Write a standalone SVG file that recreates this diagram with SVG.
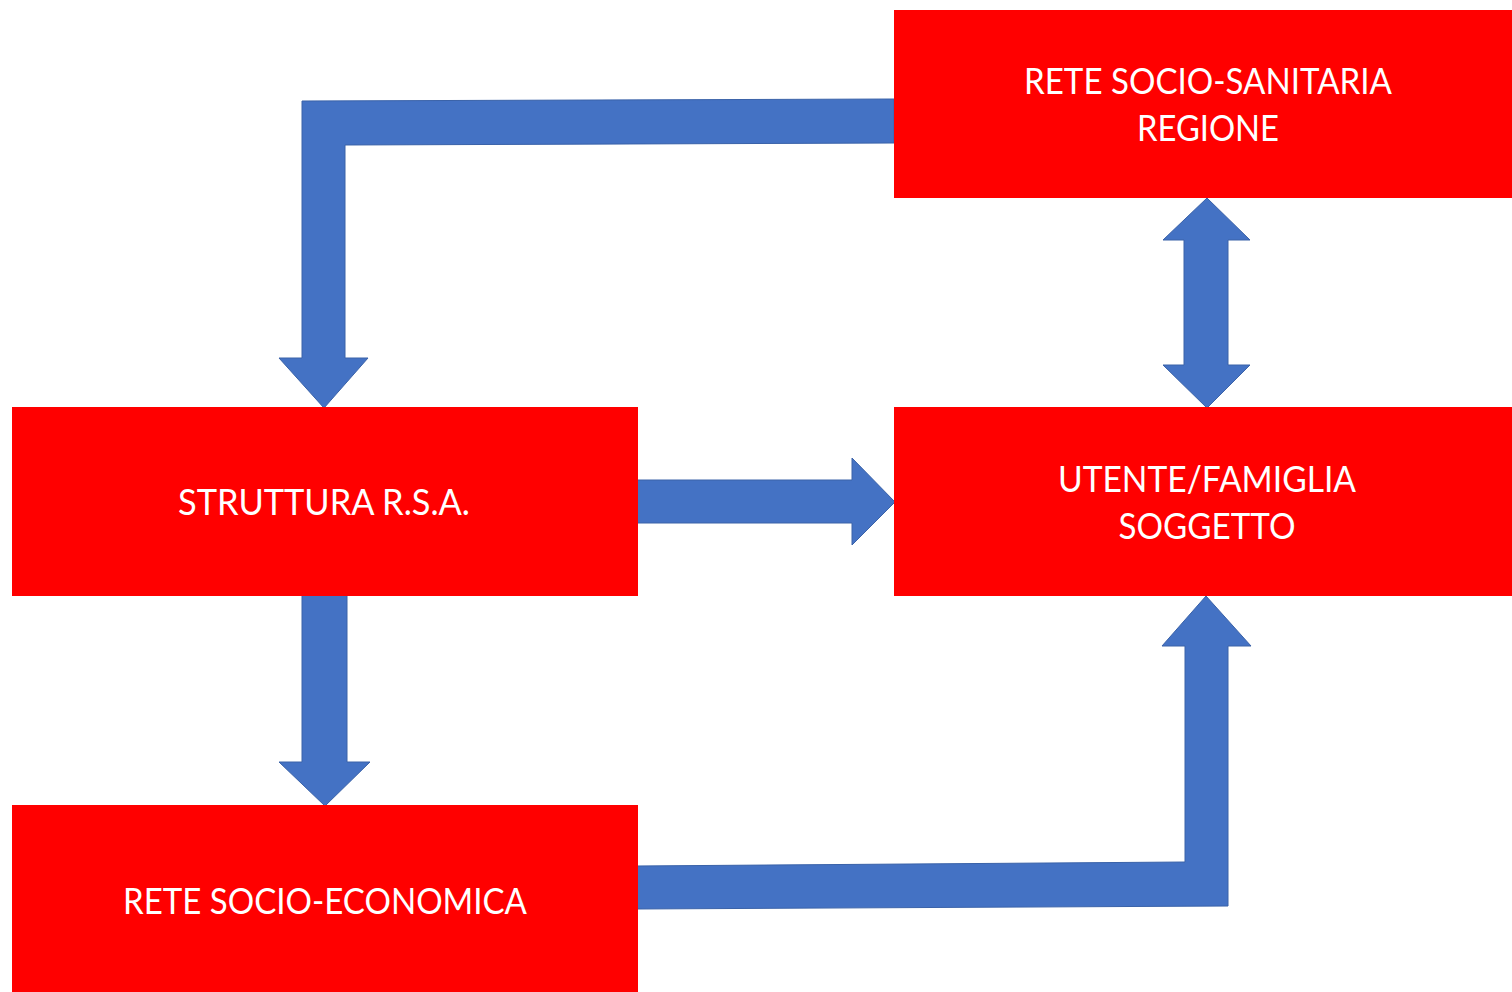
<svg xmlns="http://www.w3.org/2000/svg" width="1512" height="992" viewBox="0 0 1512 992">
<style>
.box{fill:#FF0000}
.lbl{fill:#FFFFFF;font-family:Lato,"Open Sans","Liberation Sans",sans-serif;font-size:36px;text-anchor:middle}
.arr{fill:#4472C4;stroke:#3A62A8;stroke-width:1;stroke-linejoin:miter}
</style>
<rect width="1512" height="992" fill="#FFFFFF"/>
<g id="connectors">
<path class="arr" d="M894,99 L894,143 L345,145 L345,358 L368,358 L324,408 L279,358 L302,358 L302,101 Z"/>
<path class="arr" d="M1207,198 L1250,240 L1228,240 L1228,365 L1250,365 L1207,408 L1163,365 L1184,365 L1184,240 L1163,240 Z"/>
<path class="arr" d="M636,480 L852,480 L852,458 L895,502 L852,545 L852,523 L636,523 Z"/>
<path class="arr" d="M302,595 L347,595 L347,762 L370,762 L325,806 L279,762 L302,762 Z"/>
<path class="arr" d="M636,866 L1185,862 L1185,646 L1162,646 L1206,596 L1251,646 L1228,646 L1228,906 L636,909 Z"/>
</g>
<g id="node-regione">
<rect class="box" x="894" y="10" width="618" height="188"/>
<text class="lbl" x="1208" y="94" textLength="368" lengthAdjust="spacingAndGlyphs">RETE SOCIO-SANITARIA</text>
<text class="lbl" x="1208" y="141" textLength="142" lengthAdjust="spacingAndGlyphs">REGIONE</text>
</g>
<g id="node-rsa">
<rect class="box" x="12" y="407" width="626" height="189"/>
<text class="lbl" x="324" y="515" textLength="292" lengthAdjust="spacingAndGlyphs">STRUTTURA R.S.A.</text>
</g>
<g id="node-utente">
<rect class="box" x="894" y="407" width="618" height="189"/>
<text class="lbl" x="1207" y="492" textLength="298" lengthAdjust="spacingAndGlyphs">UTENTE/FAMIGLIA</text>
<text class="lbl" x="1207" y="539" textLength="177" lengthAdjust="spacingAndGlyphs">SOGGETTO</text>
</g>
<g id="node-economica">
<rect class="box" x="12" y="805" width="626" height="187"/>
<text class="lbl" x="325" y="914" textLength="404" lengthAdjust="spacingAndGlyphs">RETE SOCIO-ECONOMICA</text>
</g>
</svg>
